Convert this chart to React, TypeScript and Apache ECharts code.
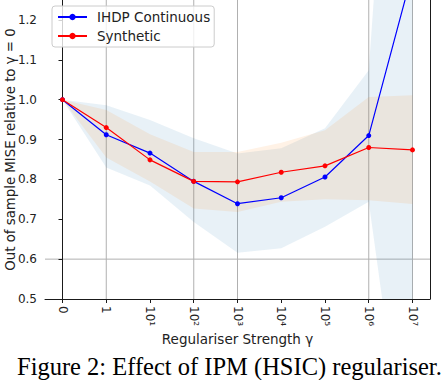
import React, { useEffect, useRef } from 'react';
import * as echarts from 'echarts';

const categories = ['0', '1', '10¹', '10²', '10³', '10⁴', '10⁵', '10⁶', '10⁷'];
const ihdp = [1.0, 0.912, 0.866, 0.795, 0.739, 0.754, 0.806, 0.91, 1.32];
const synthetic = [1.0, 0.93, 0.849, 0.795, 0.794, 0.818, 0.834, 0.88, 0.874];
const ihdpLower = [1.0, 0.83, 0.785, 0.693, 0.616, 0.627, 0.681, 0.744, -0.05];
const ihdpUpper = [1.0, 0.986, 0.949, 0.903, 0.865, 0.878, 0.928, 1.074, 2.62];
const synthLower = [1.0, 0.855, 0.795, 0.727, 0.718, 0.744, 0.75, 0.748, 0.738];
const synthUpper = [1.0, 0.974, 0.913, 0.869, 0.869, 0.892, 0.923, 1.007, 1.011];
const yTicks = [0.5, 0.6, 0.7, 0.8, 0.9, 1.0, 1.1, 1.2];
const xGridAt = [0, 1, 3, 4, 7, 8];
const yGridAt = [0.6];
const caption = 'Figure 2: Effect of IPM (HSIC) regulariser.';

const FONT = 'DejaVu Sans';
const X_MIN = -0.4;
const X_MAX = 8.4;
const Y_MIN = 0.5;
const Y_MAX = 1.25;

export default function App() {
  const ref = useRef<HTMLDivElement>(null);
  useEffect(() => {
    if (!ref.current) return;
    const chart = echarts.init(ref.current, null, { renderer: 'svg' });
    const idx = categories.map((_, i) => i);
    const band = (name: string, lower: number[], upper: number[], color: string, z: number) => ({
      type: 'custom',
      name,
      silent: true,
      clip: true,
      z,
      data: lower.map((v, i) => [i, v, upper[i]]),
      renderItem: (params: any, api: any) => {
        if (params.dataIndex !== 0) return null;
        const pts: number[][] = [];
        for (let i = 0; i < lower.length; i++) pts.push(api.coord([i, lower[i]]));
        for (let i = upper.length - 1; i >= 0; i--) pts.push(api.coord([i, upper[i]]));
        const cs = params.coordSys;
        return {
          type: 'polygon',
          shape: { points: pts },
          style: { fill: color, stroke: 'none' },
          clipPath: { type: 'rect', shape: { x: cs.x, y: cs.y, width: cs.width, height: cs.height } },
        };
      },
    });
    const gridData = [
      ...xGridAt.map((v) => [v, Y_MIN, v, Y_MAX]),
      ...yGridAt.map((v) => [X_MIN, v, X_MAX, v]),
    ];
    chart.setOption({
      animation: false,
      textStyle: { fontFamily: FONT },
      grid: { left: 45, right: 16, top: 0, bottom: 81, show: false, containLabel: false, outerBoundsMode: 'none' },
      legend: {
        data: ['IHDP Continuous', 'Synthetic'],
        orient: 'vertical',
        left: 52,
        top: 6,
        padding: [4, 4, 4, 5],
        itemGap: 5,
        itemWidth: 29,
        itemHeight: 8,
        borderColor: '#cccccc',
        borderWidth: 1,
        borderRadius: 3,
        backgroundColor: 'rgba(255,255,255,0.8)',
        textStyle: { fontFamily: FONT, fontSize: 13.5, color: '#222', padding: [0, 0, 0, 5] },
      },
      xAxis: {
        type: 'value',
        min: X_MIN,
        max: X_MAX,
        name: 'Regulariser Strength γ',
        nameLocation: 'middle',
        nameGap: 33,
        nameMoveOverlap: false,
        nameTextStyle: { fontFamily: FONT, fontSize: 13.5, color: '#222' },
        axisLine: { show: true, lineStyle: { color: '#1a1a1a', width: 1 } },
        axisTick: { show: true, length: 4, customValues: idx, lineStyle: { color: '#1a1a1a' } },
        axisLabel: {
          customValues: idx,
          formatter: (v: number) => categories[Math.round(v)] ?? '',
          rotate: -90,
          margin: 7,
          fontFamily: FONT,
          fontSize: 12,
          color: '#222',
        },
        splitLine: { show: false },
        minorSplitLine: { show: false },
      },
      yAxis: [
        {
          type: 'value',
          min: Y_MIN,
          max: Y_MAX,
          name: 'Out of sample MISE relative to γ = 0',
          nameLocation: 'middle',
          nameGap: 28,
          nameMoveOverlap: false,
          nameTextStyle: { fontFamily: FONT, fontSize: 13.3, color: '#222' },
          axisLine: { show: true, lineStyle: { color: '#1a1a1a', width: 1 } },
          axisTick: { show: true, length: 4, customValues: yTicks, lineStyle: { color: '#1a1a1a' } },
          axisLabel: {
            customValues: yTicks,
            formatter: (v: number) => v.toFixed(1),
            margin: 8,
            fontFamily: FONT,
            fontSize: 12,
            color: '#222',
          },
          splitLine: { show: false },
        },
        {
          type: 'value',
          min: Y_MIN,
          max: Y_MAX,
          position: 'right',
          axisLine: { show: true, lineStyle: { color: '#1a1a1a', width: 1 } },
          axisTick: { show: false },
          axisLabel: { show: false },
          splitLine: { show: false },
        },
      ],
      series: [
        {
          type: 'custom',
          name: 'gridlines',
          silent: true,
          z: 0,
          data: gridData,
          renderItem: (params: any, api: any) => {
            const a = api.coord([api.value(0), api.value(1)]);
            const b = api.coord([api.value(2), api.value(3)]);
            return {
              type: 'line',
              shape: { x1: a[0], y1: a[1], x2: b[0], y2: b[1] },
              style: { stroke: '#b0b0b0', lineWidth: 1 },
            };
          },
        },
        band('ihdpBand', ihdpLower, ihdpUpper, 'rgba(31,119,180,0.1)', 1),
        band('synthBand', synthLower, synthUpper, 'rgba(255,127,14,0.1)', 1),
        {
          type: 'line',
          name: 'IHDP Continuous',
          data: ihdp.map((v, i) => [i, v]),
          color: '#0000ff',
          symbol: 'circle',
          symbolSize: 5,
          lineStyle: { width: 1.2, color: '#0000ff' },
          itemStyle: { color: '#0000ff' },
          z: 3,
        },
        {
          type: 'line',
          name: 'Synthetic',
          data: synthetic.map((v, i) => [i, v]),
          color: '#ff0000',
          symbol: 'circle',
          symbolSize: 5,
          lineStyle: { width: 1.2, color: '#ff0000' },
          itemStyle: { color: '#ff0000' },
          z: 4,
        },
      ],
      graphic: [
        {
          type: 'text',
          left: 17,
          top: 354,
          style: {
            text: caption,
            fontFamily: 'Liberation Serif',
            fontSize: 24.5,
            fill: '#000',
          },
        },
      ],
    });
    return () => chart.dispose();
  }, []);
  return (
    <div
      ref={ref}
      style={{ position: 'absolute', left: 0, top: 0, width: 446, height: 380, background: '#fff' }}
    />
  );
}
